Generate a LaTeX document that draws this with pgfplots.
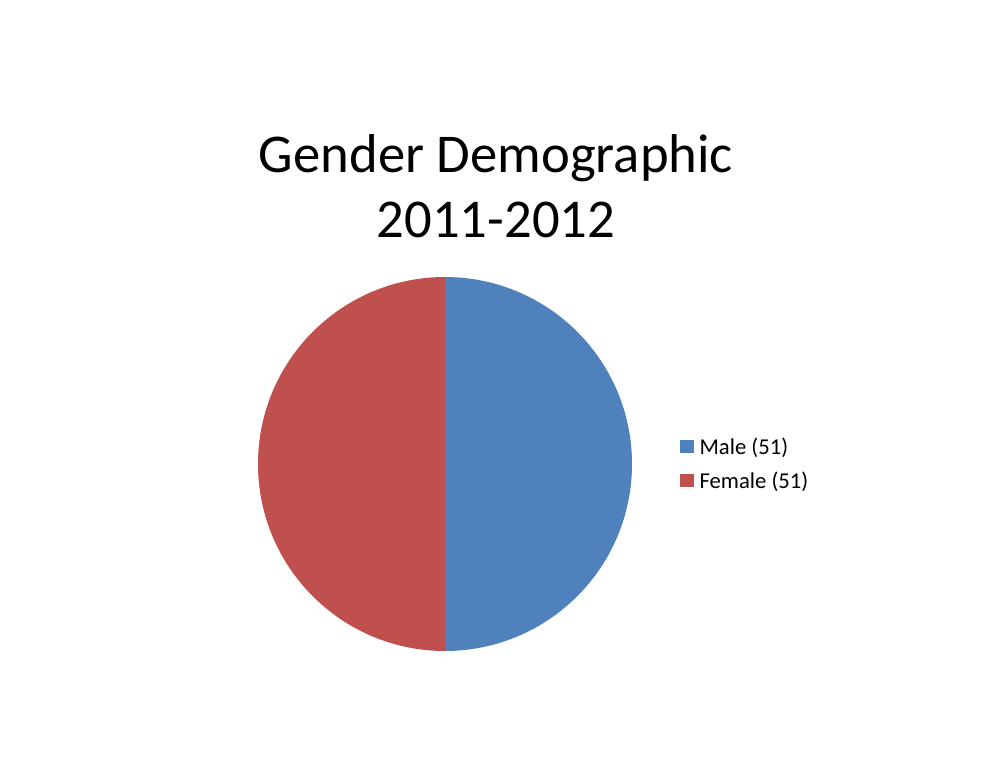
\documentclass[border=0pt]{standalone}
\usepackage{pgfplots}
\usepackage{pgfplotstable}
\pgfplotsset{compat=1.18}
\usepackage{fontspec}
\setmainfont{Carlito}
\definecolor{maleblue}{HTML}{4F81BD}
\definecolor{femalered}{HTML}{C0504D}
\pgfplotstableread{
label value
Male 51
Female 51
}\piedata
\begin{document}
\begin{tikzpicture}
\begin{scope}[x=0.75pt,y=-0.75pt]
\fill[white] (0,0) rectangle (993,768);
\useasboundingbox (0,0) rectangle (993,768);
\node[anchor=base,font=\fontsize{41}{49}\selectfont] at (496,172) {Gender Demographic};
\node[anchor=base,font=\fontsize{41}{49}\selectfont] at (496,237) {2011-2012};
\coordinate (piec) at (445,464);
\end{scope}
\pgfplotstablegetelem{0}{value}\of\piedata \let\vA\pgfplotsretval
\pgfplotstablegetelem{1}{value}\of\piedata \let\vB\pgfplotsretval
\pgfmathsetmacro\total{\vA+\vB}
\pgfmathsetmacro\angA{90-360*(\vA/\total)}
\pgfmathsetmacro\angB{\angA-360*(\vB/\total)}
\begin{axis}[
  at={(piec)}, anchor=center,
  width=280.5pt, height=280.5pt, scale only axis,
  xmin=-1, xmax=1, ymin=-1, ymax=1,
  hide axis,
  clip=false,
  legend style={draw=none, fill=none, at={(1.118,0.5)}, anchor=west,
    font=\fontsize{17}{20}\selectfont, row sep=8pt, cells={anchor=west}},
  legend image code/.code={\fill[#1] (0pt,-4pt) rectangle (9.75pt,5pt); \path (12pt,0pt);},
]
\addlegendimage{maleblue}
\addlegendentry{Male (51)}
\addlegendimage{femalered}
\addlegendentry{Female (51)}
\fill[maleblue] (axis cs:0,0) -- (axis cs:0,1) arc[start angle=90, end angle=\angA, radius=140.25pt] -- cycle;
\fill[femalered] (axis cs:0,0) -- ({axis cs:{cos(\angA)},{sin(\angA)}}) arc[start angle=\angA, end angle=\angB, radius=140.25pt] -- cycle;
\end{axis}
\end{tikzpicture}
\end{document}
